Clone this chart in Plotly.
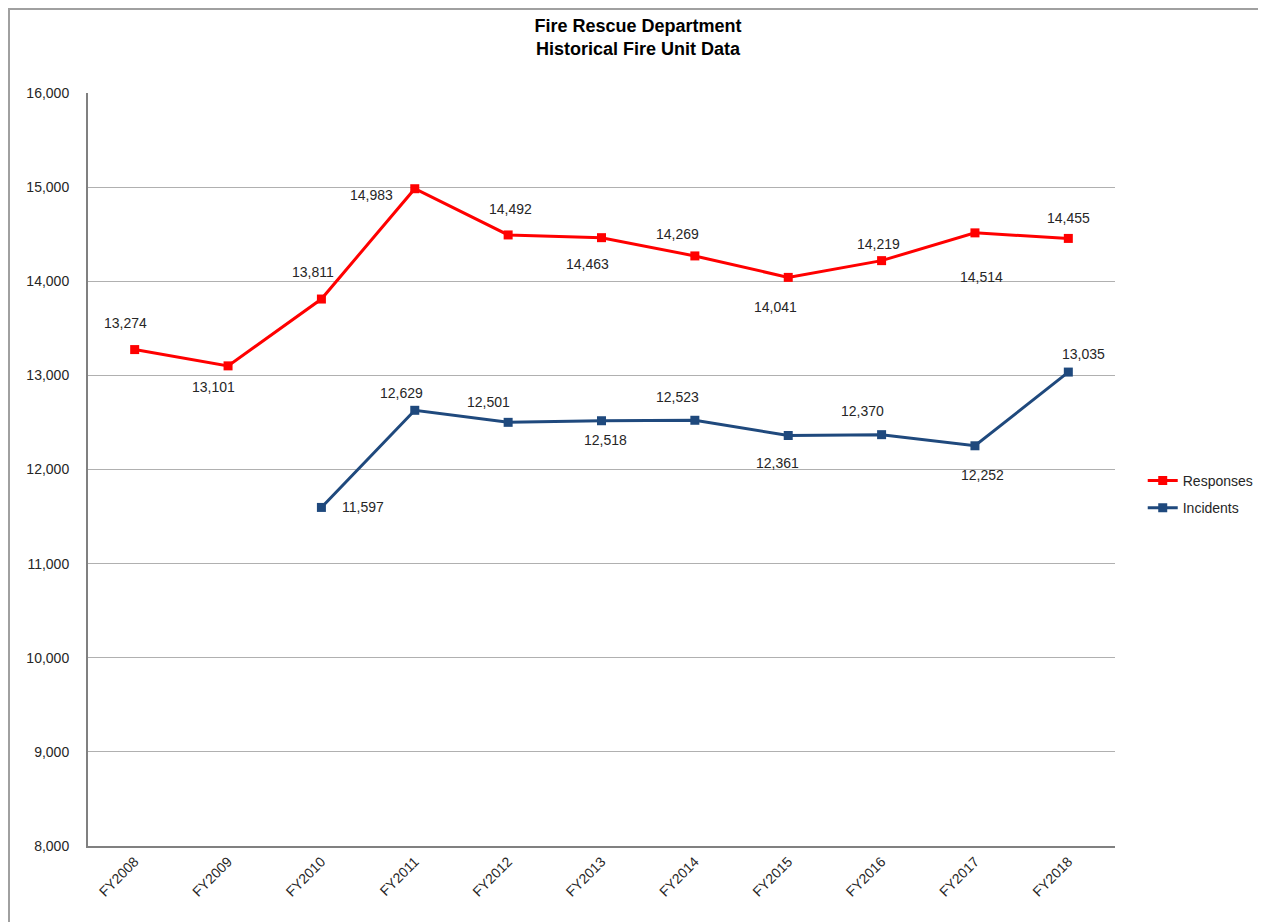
import plotly.graph_objects as go

years = ["FY2008", "FY2009", "FY2010", "FY2011", "FY2012", "FY2013", "FY2014", "FY2015", "FY2016", "FY2017", "FY2018"]
responses = [13274, 13101, 13811, 14983, 14492, 14463, 14269, 14041, 14219, 14514, 14455]
incidents = [None, None, 11597, 12629, 12501, 12518, 12523, 12361, 12370, 12252, 13035]

# label offsets in pixels (dx, dy; dy positive = up), styling only
resp_off = [(-9, 27), (-15, -21), (-8, 27), (-43, -6), (2, 26), (-14, -26),
            (-17, 22), (-13, -30), (-3, 17), (7, -44), (0, 20)]
inc_off = [(0, 0), (0, 0), (42, 0), (-13, 17), (-20, 20), (4, -19),
           (-17, 23), (-11, -27), (-19, 24), (8, -29), (15, 18)]

FONT = "Liberation Sans, Arial"
TXT = "#262626"

def fmt(v):
    return f"{v:,}"

fig = go.Figure()
fig.add_trace(go.Scatter(
    x=years, y=responses, name="Responses", mode="lines+markers", legendgroup="r",
    line=dict(color="#FF0000", width=3), marker=dict(symbol="square", size=9, color="#FF0000"),
))
fig.add_trace(go.Scatter(
    x=years, y=incidents, name="Incidents", mode="lines+markers", legendgroup="i",
    line=dict(color="#1F497D", width=3), marker=dict(symbol="square", size=9, color="#1F497D"),
))

annotations = []
for series, offs in ((responses, resp_off), (incidents, inc_off)):
    for yr, v, (dx, dy) in zip(years, series, offs):
        if v is None:
            continue
        annotations.append(dict(x=yr, y=v, xref="x", yref="y", text=fmt(v), showarrow=False,
                                xshift=dx, yshift=dy, font=dict(family=FONT, size=14, color=TXT)))

W, H = 1258, 914
L, T, PW, PH = 80, 85, 1027, 753

fig.update_layout(
    width=W, height=H,
    margin=dict(l=L, r=W - L - PW, t=T, b=H - T - PH, autoexpand=False),
    paper_bgcolor="white", plot_bgcolor="white",
    font=dict(family=FONT, size=14, color=TXT),
    title=dict(text="<b>Fire Rescue Department<br>Historical Fire Unit Data</b>",
               x=630 / W, xanchor="center", y=1 - 24 / H, yanchor="top",
               font=dict(size=18, color="#000000")),
    showlegend=True,
    legend=dict(x=1.027, y=0.467, xanchor="left", yanchor="middle",
                font=dict(size=14, color=TXT), tracegroupgap=6,
                bgcolor="rgba(0,0,0,0)"),
    annotations=annotations,
    xaxis=dict(type="category", showgrid=False, showline=True, linecolor="#808080", linewidth=2,
               tickangle=-45, ticks="", tickfont=dict(size=14, color=TXT),
               range=[-0.5, 10.5]),
    yaxis=dict(range=[8000, 16000], dtick=1000, tickformat=",", showgrid=True,
               gridcolor="#B0B0B0", gridwidth=1, showline=True, linecolor="#808080", linewidth=2,
               ticks="", ticklabelstandoff=14, tickfont=dict(size=14, color=TXT),
               zeroline=False),
)

fig.add_shape(type="rect", xref="paper", yref="paper",
              x0=(1 - L) / PW, x1=(W + 6 - L) / PW,
              y0=(T + PH - (H + 4)) / PH, y1=(T + PH - 1) / PH,
              line=dict(color="#A0A0A0", width=2), layer="below")

fig.write_html("out.html")
